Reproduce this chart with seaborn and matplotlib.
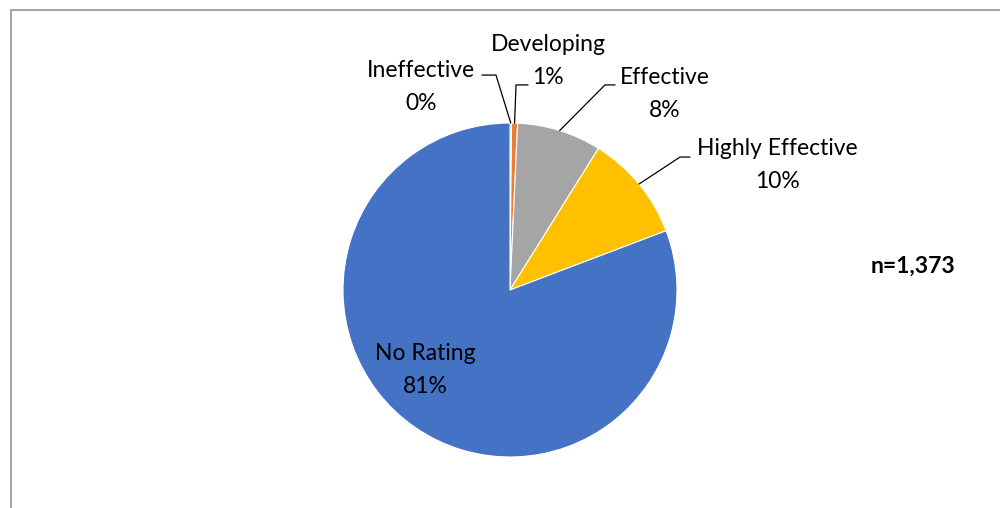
import numpy as np
import matplotlib
matplotlib.use("Agg")
import matplotlib.pyplot as plt
from matplotlib.lines import Line2D
import seaborn as sns

# Teacher rating distribution (counts), n = 1,373
categories = ["Ineffective", "Developing", "Effective", "Highly Effective", "No Rating"]
counts = [2, 8, 112, 142, 1109]
pct_labels = ["0%", "1%", "8%", "10%", "81%"]
total_label = "n=1,373"

colors = sns.color_palette(["#5B9BD5", "#ED7D31", "#A5A5A5", "#FFC000", "#4472C4"])

sns.set_theme(style="white")
plt.rcParams["font.family"] = ["Lato", "DejaVu Sans"]

fig = plt.figure(figsize=(10, 5.08), dpi=100)
ax = fig.add_axes([0.343, 0.1004, 0.334, 0.6575])

wedges, _ = ax.pie(
    counts,
    colors=colors,
    startangle=90,
    counterclock=False,
    radius=1.0,
    wedgeprops=dict(edgecolor="white", linewidth=0.8),
)
ax.set_xlim(-1, 1)
ax.set_ylim(-1, 1)
ax.set_aspect("equal")
ax.axis("off")

# label block centers and leader-line elbows (data units of the pie axes)
label_pos = {
    "Ineffective": (-0.533, 1.216),
    "Developing": (0.228, 1.371),
    "Effective": (0.928, 1.174),
    "Highly Effective": (1.599, 0.749),
    "No Rating": (-0.509, -0.479),
}
leaders = {
    "Ineffective": ((-0.084, 1.287), (-0.168, 1.287)),
    "Developing": ((0.036, 1.228), (0.108, 1.228)),
    "Effective": ((0.569, 1.228), (0.629, 1.228)),
    "Highly Effective": ((1.018, 0.796), (1.078, 0.796)),
}

for w, cat, pct in zip(wedges, categories, pct_labels):
    x, y = label_pos[cat]
    ax.text(x, y, f"{cat}\n{pct}", ha="center", va="center", fontsize=16.5,
            color="black", linespacing=1.68, clip_on=False)
    if cat in leaders:
        mid = np.deg2rad((w.theta1 + w.theta2) / 2)
        start = (np.cos(mid), np.sin(mid))
        elbow, end = leaders[cat]
        ax.add_line(Line2D([start[0], elbow[0], end[0]], [start[1], elbow[1], end[1]],
                           color="black", linewidth=0.9, clip_on=False))

fig.text(0.913, 0.476, total_label, ha="center", va="center", fontsize=16.5,
         fontweight="bold", color="black")

# chart-area frame (top and left edges visible)
fig.add_artist(Line2D([0.0105, 0.0105, 1.0], [0.0, 1 - 9.5 / 508, 1 - 9.5 / 508],
                      transform=fig.transFigure, color="#A6A6A6", linewidth=1.5))

fig.savefig("out.png", dpi=100)
